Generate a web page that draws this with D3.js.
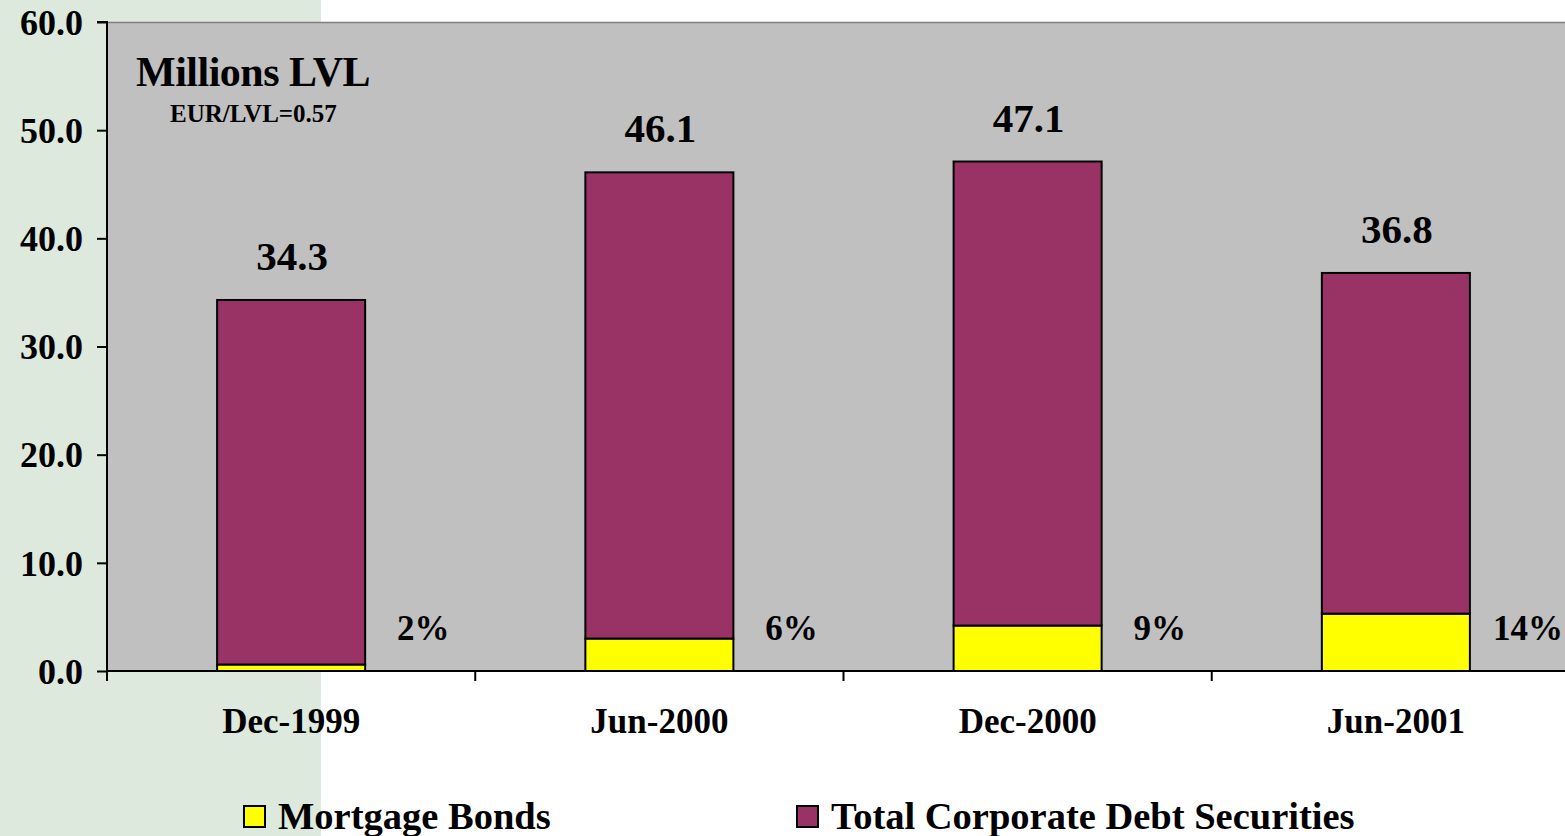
<!DOCTYPE html>
<html><head><meta charset="utf-8">
<script src="https://cdn.jsdelivr.net/npm/d3@7"></script>
<style>body{margin:0;background:#fff;overflow:hidden}svg{display:block}</style>
</head><body>
<script>
const categories = ["Dec-1999","Jun-2000","Dec-2000","Jun-2001"];
const mortgageBonds = [0.6, 3.0, 4.2, 5.3];
const totalCorporate = [34.3, 46.1, 47.1, 36.8];
const shareLabels = ["2%","6%","9%","14%"];
const yTicks = [0,10,20,30,40,50,60];
const seriesNames = ["Mortgage Bonds","Total Corporate Debt Securities"];

(function(){
const W=1565,H=836;
const svg=d3.select("body").append("svg").attr("width",W).attr("height",H);
const font="'Liberation Serif','Times New Roman',serif";

svg.append("rect").attr("x",0).attr("y",0).attr("width",321).attr("height",H).attr("fill","#dce9dc");

const pl=107, pr=1580, pt=22, pb=671;
const x=d3.scaleBand().domain(categories).range([pl,pr]);
const y=d3.scaleLinear().domain([0,60]).range([pb,pt]);

svg.append("rect").attr("x",pl).attr("y",pt).attr("width",pr-pl).attr("height",pb-pt)
  .attr("fill","#c0c0c0");
svg.append("line").attr("x1",pl).attr("x2",pr).attr("y1",pt+0.5).attr("y2",pt+0.5).attr("stroke","#808080").attr("stroke-width",1.5);

const rows=categories.map((c,i)=>({cat:c,mb:mortgageBonds[i],rest:totalCorporate[i]-mortgageBonds[i],total:totalCorporate[i],pct:shareLabels[i]}));
const stack=d3.stack().keys(["mb","rest"])(rows);
const colors=["#ffff00","#993366"];
const bw=x.bandwidth()*0.402;
stack.forEach((s,k)=>{
  svg.append("g").selectAll("rect").data(s).join("rect")
    .attr("x",d=>x(d.data.cat)+x.bandwidth()/2-bw/2)
    .attr("y",d=>y(d[1]))
    .attr("width",bw)
    .attr("height",d=>y(d[0])-y(d[1]))
    .attr("fill",colors[k]).attr("stroke","#000").attr("stroke-width",2);
});

const ya=d3.axisLeft(y).tickValues(yTicks).tickFormat(d3.format(".1f")).tickSize(10).tickPadding(14);
const gy=svg.append("g").attr("transform",`translate(${pl},0)`).call(ya);
gy.select(".domain").attr("stroke","#000").attr("stroke-width",2).attr("d",`M-10,${pt}H0V${pb+10}`);
gy.selectAll(".tick line").attr("stroke","#000").attr("stroke-width",2);
gy.selectAll(".tick text").attr("font-family",font).attr("font-weight","bold").attr("font-size",36).attr("fill","#000").attr("dy","0.34em");

const xa=d3.axisBottom(x).tickSize(0).tickPadding(37);
const gx=svg.append("g").attr("transform",`translate(0,${pb})`).call(xa);
gx.select(".domain").attr("stroke","#000").attr("stroke-width",2).attr("d",`M${pl},0H${pr}`);
gx.selectAll(".tick text").attr("font-family",font).attr("font-weight","bold").attr("font-size",35).attr("fill","#000");
gx.selectAll("line.sep").data(categories).join("line").attr("class","sep")
  .attr("x1",d=>x(d)+x.bandwidth()).attr("x2",d=>x(d)+x.bandwidth()).attr("y1",0).attr("y2",10)
  .attr("stroke","#000").attr("stroke-width",2);

svg.append("g").selectAll("text").data(rows).join("text")
  .attr("x",d=>x(d.cat)+x.bandwidth()/2+1).attr("y",d=>y(d.total)-30)
  .attr("text-anchor","middle").attr("font-family",font).attr("font-weight","bold").attr("font-size",41)
  .text(d=>d.total.toFixed(1));
svg.append("g").selectAll("text").data(rows).join("text")
  .attr("x",d=>x(d.cat)+x.bandwidth()/2+132).attr("y",y(4)+12)
  .attr("text-anchor","middle").attr("font-family",font).attr("font-weight","bold").attr("font-size",35)
  .text(d=>d.pct);

svg.append("text").attr("x",136).attr("y",86).attr("font-family",font).attr("font-weight","bold").attr("font-size",42).attr("letter-spacing",-0.5).text("Millions LVL");
svg.append("text").attr("x",170).attr("y",122).attr("font-family",font).attr("font-weight","bold").attr("font-size",25).attr("letter-spacing",0).text("EUR/LVL=0.57");

const lx=[244,797];
seriesNames.forEach((n,i)=>{
  svg.append("rect").attr("x",lx[i]).attr("y",806).attr("width",21).attr("height",21)
    .attr("fill",colors[i]).attr("stroke","#000").attr("stroke-width",2);
  svg.append("text").attr("x",lx[i]+34).attr("y",829).attr("font-family",font).attr("font-weight","bold").attr("font-size",38.5).text(n);
});
})();
</script>
</body></html>
